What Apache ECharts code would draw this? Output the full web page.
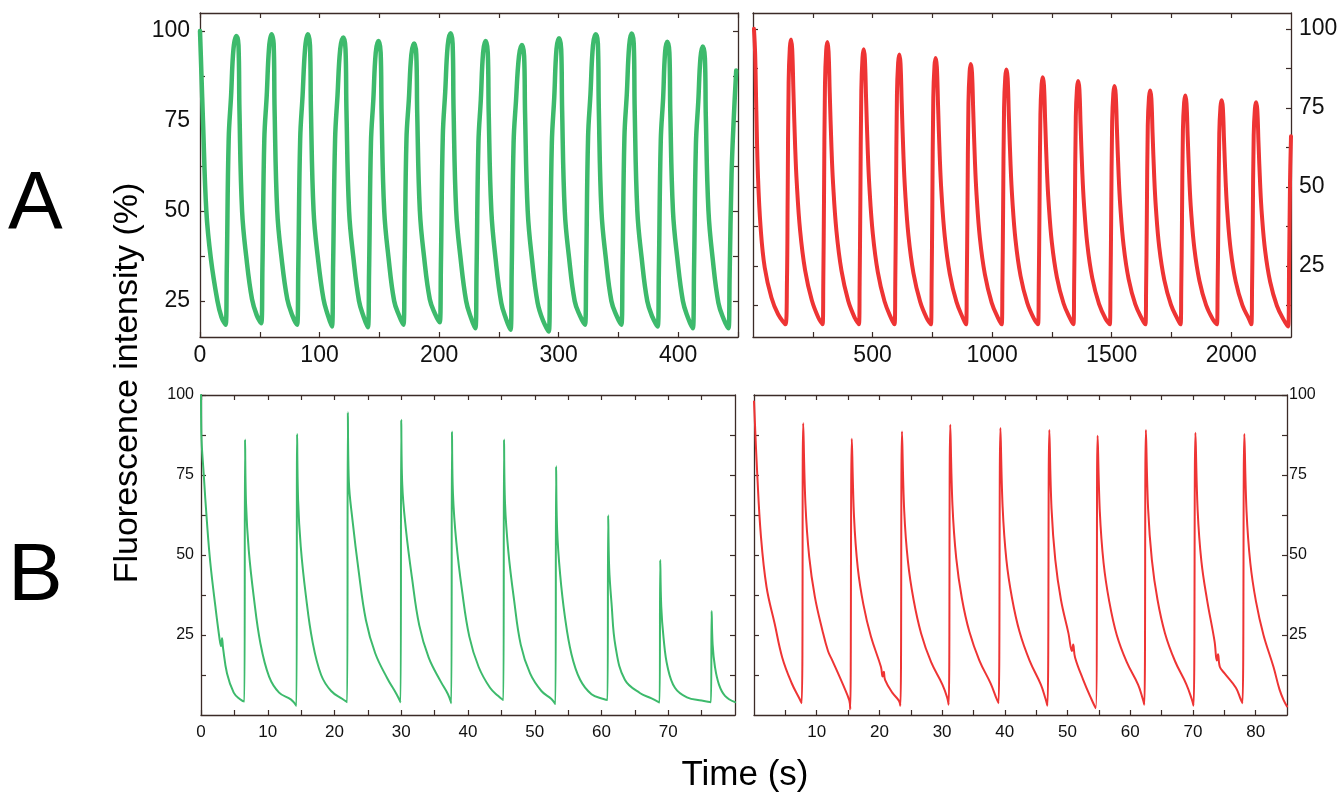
<!DOCTYPE html>
<html><head><meta charset="utf-8">
<script src="https://cdn.jsdelivr.net/npm/echarts@6/dist/echarts.min.js"></script>
<style>html,body{margin:0;padding:0;background:#fff}#c{width:1341px;height:794px}</style>
</head><body><div id="c"></div><script>
// ---- Panel A, left (green), time in s, fluorescence in % ----
const greenA = [
  [0,100],[1.2,88],[2.5,75],[5.3,50],[9,37],[14.6,25],[18,20.5],[21.4,18.4],
  [22.4,34],[24,70],[26,82],[28,95],[30.4,98.6],
  [32.2,96],[33,78],[35.2,50],[38.8,37],[43.5,25.5],[47.5,21],[51.2,18.8],
  [52.2,34],[53.8,70],[55.8,82],[57.8,95.5],[59.8,99.1],
  [61.6,96.5],[62.4,78],[64.6,50],[68.2,37],[73,25.5],[77.2,21],[81.2,18.4],
  [82.2,34],[83.8,70],[85.8,82],[88,95.5],[90.2,99.1],
  [92,96],[92.8,78],[95,50],[98.6,37],[103.3,25.5],[107,21],[110.3,17.9],
  [111.3,34],[113,70],[115,82],[117.3,95],[119.9,98.2],
  [121.7,95],[122.5,78],[124.7,50],[128.3,37],[133,25],[137,20.5],[140.4,17.7],
  [141.4,33],[143,69],[145,81],[147,94],[149.3,97.2],
  [151.1,94],[151.9,77],[154.1,50],[157.7,37],[162.4,25],[166.5,21],[170.1,18.4],
  [171.1,34],[172.7,70],[174.7,81],[176.8,93.5],[179.1,96.5],
  [180.9,93.5],[181.7,77],[183.9,50],[187.5,37],[192.2,25.5],[196.5,21.5],[200.5,19.1],
  [201.5,35],[203.1,71],[205.1,83],[207.2,96],[209.5,99.4],
  [211.3,96.5],[212.1,78],[214.3,50],[217.9,37],[222.6,25],[226.5,20.5],[230.3,17.4],
  [231.3,33],[232.9,69],[234.9,81],[236.8,94],[238.9,97.2],
  [240.7,94],[241.5,77],[243.7,50],[247.3,36.5],[252,24.5],[256,20],[259.7,17],
  [260.7,33],[262.3,69],[264.3,80.5],[266.8,93],[269.3,96.1],
  [271.1,93],[271.9,77],[274.1,50],[277.7,36.5],[282.4,24.5],[287,19.5],[291.7,16.5],
  [292.7,32],[294.3,69],[296.3,81.5],[298.2,95],[300.3,98],
  [302.1,95],[302.9,78],[305.1,50],[308.7,37],[313.4,25],[317.7,21],[322,18.4],
  [323,34],[324.6,70.5],[326.6,82.5],[328.7,96],[331,99.1],
  [332.8,96.5],[333.6,78],[335.8,50],[339.4,37],[344.1,25],[348.3,21],[352.4,18.4],
  [353.4,34],[355,70.5],[357,82.5],[359,96],[361,99.3],
  [362.8,96.5],[363.6,78],[365.8,50],[369.4,37],[374.1,25],[378.5,20.5],[382.8,17.9],
  [383.8,33],[385.4,69.5],[387.4,81.5],[389,94],[390.8,97],
  [392.6,94],[393.4,77],[395.6,50],[399.2,37],[403.9,25],[408,20.5],[412.2,17.4],
  [413.2,33],[414.8,68.5],[416.8,80.5],[418.6,92.5],[420.5,95.7],
  [422.3,92.5],[423.1,76],[425.3,50],[428.9,36.5],[433.6,24.5],[438,20],[442,17.4],
  [443,32],[444.6,60],[446.5,76],[448.5,89]
];
// ---- Panel A, right (red) ----
const redA = [
  [4,100],[9,92],[14,74],[21,53],[32,37],[49,24.5],[77,15],[105,9.7],[136,6.5],
  [142,20],[145,47],[149,83],[154,94],[159,96.6],
  [164,93.5],[169,80.4],[176,63.3],[183,51.3],[197,36.2],[218,23.6],[246,14.1],[274,8.5],[291,6.5],
  [294,19.9],[297,46.7],[301,82.4],[306,93.1],[311,95.8],
  [316,92.8],[321,79.7],[328,62.8],[335,50.9],[349,36],[370,23.5],[398,14],[426,8.5],[443,6.5],
  [446,19.6],[449,45.7],[453,80.5],[458,90.9],[463,93.5],
  [468,90.5],[473,77.8],[480,61.3],[487,49.7],[501,35.2],[522,23],[550,13.8],[578,8.4],[592,6.5],
  [595,19.3],[598,44.9],[602,79.1],[607,89.3],[612,91.9],
  [617,89],[622,76.5],[629,60.3],[636,48.9],[650,34.7],[671,22.7],[699,13.7],[727,8.4],[744,6.5],
  [747,19.1],[750,44.4],[754,78.2],[759,88.3],[764,90.8],
  [769,87.9],[774,75.6],[781,59.6],[788,48.4],[802,34.3],[823,22.5],[851,13.6],[879,8.3],[891,6.5],
  [894,18.9],[897,43.6],[901,76.5],[906,86.4],[911,88.9],
  [916,86.1],[921,74.1],[928,58.4],[935,47.5],[949,33.7],[970,22.2],[998,13.4],[1026,8.3],[1040,6.5],
  [1043,18.6],[1046,42.8],[1050,75],[1055,84.7],[1060,87.1],
  [1065,84.4],[1070,72.6],[1077,57.3],[1084,46.6],[1098,33.1],[1119,21.8],[1147,13.3],[1175,8.3],[1192,6.5],
  [1195,18.2],[1198,41.7],[1202,73],[1207,82.4],[1212,84.7],
  [1217,82],[1222,70.6],[1229,55.8],[1236,45.4],[1250,32.3],[1271,21.4],[1299,13.1],[1327,8.2],[1340,6.5],
  [1343,18.1],[1346,41.2],[1350,72],[1355,81.2],[1360,83.5],
  [1365,80.9],[1370,69.6],[1377,55],[1384,44.8],[1398,31.9],[1419,21.1],[1447,13],[1475,8.2],[1492,6.5],
  [1495,17.8],[1498,40.4],[1502,70.6],[1507,79.6],[1512,81.9],
  [1517,79.3],[1522,68.3],[1529,54],[1536,44],[1550,31.4],[1571,20.8],[1599,12.8],[1627,8.2],[1641,6.5],
  [1644,17.6],[1647,39.8],[1651,69.4],[1656,78.3],[1661,80.5],
  [1666,78],[1671,67.2],[1678,53.1],[1685,43.3],[1699,30.9],[1720,20.6],[1748,12.7],[1776,8.1],[1788,6.5],
  [1791,17.4],[1794,39.1],[1798,68],[1803,76.7],[1808,78.9],
  [1813,76.4],[1818,65.9],[1825,52.1],[1832,42.5],[1846,30.4],[1867,20.3],[1895,12.6],[1923,8.1],[1940,6.5],
  [1943,17.1],[1946,38.4],[1950,66.8],[1955,75.3],[1960,77.4],
  [1965,75],[1970,64.6],[1977,51.2],[1984,41.7],[1998,29.9],[2019,20],[2047,12.5],[2075,8.1],[2084,6.5],
  [2087,17],[2090,38.1],[2094,66.3],[2099,74.7],[2104,76.8],
  [2109,74.4],[2114,64.1],[2121,50.8],[2128,41.4],[2142,29.7],[2163,19.9],[2191,12.4],[2219,8],[2238,5.8],
  [2242,25],[2246,52],[2250,66]
];
// ---- Panel B, left (green) ----
const greenB = [
  [0,100],[0.05,88],[0.4,75.5],[0.9,60],[1.4,47.5],[2.15,34],[2.8,23.5],[3.0,21.5],[3.15,24],[3.3,21],[3.9,13],[4.9,7],[5.8,5],[6.5,4.2],
  [6.6,86.1],[6.75,66],[7.15,51.6],[7.9,37],[8.9,22.4],[10.2,12],[11.7,7],[13.5,4.8],[14.3,2.9],
  [14.4,87.8],[14.55,67],[14.95,52.5],[15.7,37.5],[16.7,23],[18,12.5],[19.5,7.5],[21.2,5],[21.9,4],
  [22,94.6],[22.15,73],[22.7,60.8],[23.6,45.3],[24.7,29.7],[26.1,19.3],[27.9,11.5],[29.3,6.5],[29.9,4],
  [30,92.3],[30.15,72],[30.7,58],[31.6,43],[32.7,28],[34.1,18],[35.9,10.5],[37,6.5],[37.5,3.7],
  [37.6,88.6],[37.75,69],[38.25,54],[39.1,39],[40.2,24.5],[41.6,15],[43.3,8.5],[44.5,6],[45.3,4.7],
  [45.4,86.1],[45.55,66],[46.05,51],[46.9,36],[47.9,22],[49.3,13],[51,7.5],[52.5,5],[53.1,3.4],
  [53.2,77.7],[53.35,58],[53.8,44],[54.5,31],[55.5,19],[56.8,11],[58.5,6.5],[60.3,5],[60.9,4.7],
  [61,62.4],[61.15,46],[61.5,35],[62.1,21.4],[63.5,11],[65.8,6.8],[67.5,5.2],[68.7,3.9],
  [68.8,48.4],[68.95,34],[69.3,24],[69.9,15],[71,8.5],[72.8,5.5],[75,4.5],[76.4,4],
  [76.5,32.5],[76.65,22],[77,15],[77.6,9.5],[78.5,6],[80,4]
];
// ---- Panel B, right (red) ----
const redB = [
  [0,98],[0.5,76],[1.1,56],[2,40],[3.3,28.5],[4.5,18],[6,10],[7.2,5.3],[7.6,3.7],
  [7.85,91.2],[8.2,66],[8.8,49.5],[9.7,37],[10.9,26.5],[11.8,20],[12.5,17],[14.3,9],[15.2,4.5],[15.35,1.8],
  [15.6,86.3],[15.95,62],[16.55,46],[17.45,34.5],[18.65,24.5],[20.25,15],[20.5,12],[20.7,13.5],[20.9,11],[22.05,7],[23.1,4.5],[23.35,2.9],
  [23.6,88.6],[23.95,64],[24.55,48],[25.45,36],[26.65,25.5],[28.25,16.5],[30.05,9.5],[30.8,5.5],[31.05,3.2],
  [31.3,90.7],[31.65,65.5],[32.25,49],[33.15,36.5],[34.35,26],[35.95,17],[37.75,9.8],[38.7,5],[39,3.7],
  [39.3,89.7],[39.65,65],[40.25,48.5],[41.15,36.5],[42.35,26],[43.95,17],[45.75,9.5],[46.5,5],[46.8,2.9],
  [47.1,89.1],[47.45,64.5],[48.05,48.5],[48.95,36],[50.15,25.5],[50.7,20],[50.9,22],[51.2,18],[52.5,11],[53.8,5],[54.5,2.1],
  [54.8,87.3],[55.15,63.5],[55.75,47.5],[56.65,35.5],[57.85,25],[59.45,16.5],[61.25,9.5],[62,5],[62.25,3.2],
  [62.5,89.1],[62.85,64.5],[63.45,48.5],[64.35,36],[65.55,25.5],[67.15,16.8],[68.95,9.6],[69.8,5],[70.1,2.9],
  [70.4,88.2],[70.75,64],[71.35,48],[72.25,36],[73.45,23],[73.8,17],[74,19],[74.3,15],[75.05,13],[76.85,8.5],[77.6,5],[77.9,3.7],
  [78.2,87.8],[78.55,63.5],[79.15,47.5],[80.05,35.5],[81.25,25],[82.85,15],[83.8,8],[84.5,4.5],[85,2.7]
];
// ---- Tick positions and labels ----
const aLeftXTicks = [0,50,100,150,200,250,300,350,400,450];
const aLeftXLabels = [0,100,200,300,400];
const aLeftYTicks = [25,37.5,50,62.5,75,87.5,100];
const aRightXTicks = [250,500,750,1000,1250,1500,1750,2000];
const aRightXLabels = [500,1000,1500,2000];
const aRightYTicks = [12.5,25,37.5,50,62.5,75,87.5,100];
const yLabels = [25,50,75,100];
const bLeftXTicks = [0,5,10,15,20,25,30,35,40,45,50,55,60,65,70,75];
const bLeftXLabels = [0,10,20,30,40,50,60,70];
const bRightXTicks = [5,10,15,20,25,30,35,40,45,50,55,60,65,70,75,80];
const bRightXLabels = [10,20,30,40,50,60,70,80];
const bYTicks = [12.5,25,37.5,50,62.5,75,87.5];

const FONT = "'Liberation Sans', Arial, Helvetica, sans-serif";
const AX = '#3b2b27';
const GREEN = '#3dba6c', RED = '#ee3434';

function lbl(labels, fs, margin) {
  return {show: true, customValues: labels, fontSize: fs, margin: margin, color: '#111', fontFamily: FONT,
    formatter: function (v) { return String(v); }};
}
function xAx(grid, min, max, ticks, labels, fs, margin, mirror) {
  return {
    type: 'value', gridIndex: grid, min: min, max: max, position: mirror ? 'top' : 'bottom',
    axisLine: {show: true, onZero: false, lineStyle: {color: AX, width: 1.3}},
    axisTick: {show: true, inside: true, length: 5, customValues: ticks, lineStyle: {color: AX, width: 1.2}},
    axisLabel: mirror ? {show: false} : lbl(labels, fs, margin),
    splitLine: {show: false}
  };
}
function yAx(grid, min, max, ticks, labels, fs, margin, pos, mirror) {
  return {
    type: 'value', gridIndex: grid, min: min, max: max, position: pos,
    axisLine: {show: true, onZero: false, lineStyle: {color: AX, width: 1.3}},
    axisTick: {show: true, inside: true, length: 5, customValues: ticks, lineStyle: {color: AX, width: 1.2}},
    axisLabel: mirror ? {show: false} : lbl(labels, fs, margin),
    splitLine: {show: false}
  };
}
function line(data, xi, yi, color, w) {
  return {type: 'line', data: data, xAxisIndex: xi, yAxisIndex: yi, showSymbol: false, symbol: 'none',
    smooth: 0.4, lineStyle: {color: color, width: w, join: 'round', cap: 'round'}, clip: true, animation: false};
}

const chart = echarts.init(document.getElementById('c'), null, {renderer: 'canvas'});
chart.setOption({
  backgroundColor: '#fff',
  animation: false,
  grid: [
    {left: 200, top: 13, width: 538, height: 324},
    {left: 753, top: 13, width: 538, height: 324},
    {left: 201, top: 395, width: 534, height: 320},
    {left: 754, top: 395, width: 533, height: 320}
  ],
  xAxis: [
    xAx(0, 0, 450, aLeftXTicks, aLeftXLabels, 23, 7, false),
    xAx(0, 0, 450, aLeftXTicks, null, 23, 7, true),
    xAx(1, 0, 2250, aRightXTicks, aRightXLabels, 23, 7, false),
    xAx(1, 0, 2250, aRightXTicks, null, 23, 7, true),
    xAx(2, 0, 80, bLeftXTicks, bLeftXLabels, 17, 9, false),
    xAx(2, 0, 80, bLeftXTicks, null, 17, 9, true),
    xAx(3, 0, 85, bRightXTicks, bRightXLabels, 17, 9, false),
    xAx(3, 0, 85, bRightXTicks, null, 17, 9, true)
  ],
  yAxis: [
    yAx(0, 15, 105, aLeftYTicks, yLabels, 23, 10, 'left', false),
    yAx(0, 15, 105, aLeftYTicks, null, 23, 10, 'right', true),
    yAx(1, 2.5, 105, aRightYTicks, yLabels, 23, 8, 'right', false),
    yAx(1, 2.5, 105, aRightYTicks, null, 23, 8, 'left', true),
    yAx(2, 0, 100, bYTicks.concat([100]), yLabels, 16, 7, 'left', false),
    yAx(2, 0, 100, bYTicks, null, 16, 7, 'right', true),
    yAx(3, 0, 100, bYTicks.concat([100]), yLabels, 16, 2, 'right', false),
    yAx(3, 0, 100, bYTicks, null, 16, 2, 'left', true)
  ],
  series: [
    line(greenA, 0, 0, GREEN, 4.5),
    line(redA, 2, 2, RED, 4),
    line(greenB, 4, 4, GREEN, 2),
    line(redB, 6, 6, RED, 2)
  ],
  graphic: [
    {type: 'text', left: 8, top: 164, style: {text: 'A', font: '82px ' + FONT, fill: '#000'}},
    {type: 'text', left: 8, top: 536, style: {text: 'B', font: '82px ' + FONT, fill: '#000'}},
    {type: 'text', x: 128, y: 383, rotation: Math.PI / 2,
      style: {text: 'Fluorescence intensity (%)', font: '34px ' + FONT, fill: '#000', align: 'center', verticalAlign: 'middle'}},
    {type: 'text', x: 745, y: 775,
      style: {text: 'Time (s)', font: '35px ' + FONT, fill: '#000', align: 'center', verticalAlign: 'middle'}}
  ]
});
</script></body></html>
